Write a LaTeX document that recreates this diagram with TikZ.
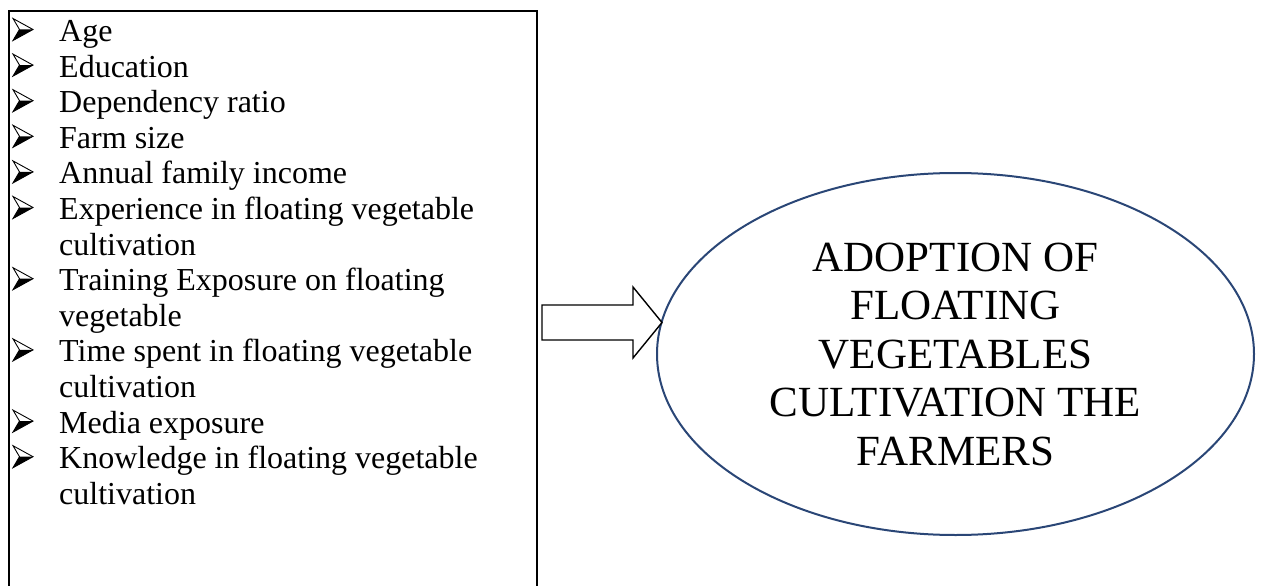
\documentclass[tikz,border=0pt]{standalone}
\usepackage{fontspec}
\setmainfont{Liberation Serif}
\usetikzlibrary{shapes.geometric}
\definecolor{ellblue}{HTML}{2A4676}
\tikzset{
  listbox/.style={draw=black, line width=2pt},
  item/.style={anchor=base west, inner sep=0pt, font=\fontsize{32}{35.6}\selectfont},
  outcome/.style={ellipse, draw=ellblue, line width=2pt, minimum width=597pt, minimum height=362pt, inner sep=0pt, align=center, font=\fontsize{43}{48.5}\selectfont},
  blockarrow/.style={draw=black, line width=1.4pt, fill=white},
  wbullet/.pic={
    \fill[black] (6.5,-12) -- (20,-12) -- (0,-1) -- cycle;
    \draw[black, line width=0.9pt, line join=miter] (0,-23) -- (20,-12) -- (0,-1) -- (6.5,-12) -- cycle;
  }
}
\begin{document}
\begin{tikzpicture}[x=1pt,y=-1pt]
\useasboundingbox (0,0) rectangle (1262,586);
\clip (0,0) rectangle (1262,586);
% list box (open at the bottom of the picture)
\coordinate (boxBL) at (9,600);
\coordinate (boxTL) at (9,11);
\coordinate (boxTR) at (537,11);
\coordinate (boxBR) at (537,600);
\draw[listbox] (boxBL) -- (boxTL) -- (boxTR) -- (boxBR);
% list items
\foreach \b/\t [count=\i] in {1/Age, 1/Education, 1/Dependency ratio, 1/Farm size, 1/Annual family income,
  1/Experience in floating vegetable, 0/cultivation, 1/Training Exposure on floating, 0/vegetable,
  1/Time spent in floating vegetable, 0/cultivation, 1/Media exposure, 1/Knowledge in floating vegetable, 0/cultivation} {
  \pgfmathsetmacro{\yy}{41.5+35.6*(\i-1)}
  \node[item] (item\i) at (59,\yy) {\t};
  \ifnum\b=1 \pic (bul\i) at (13,\yy) {wbullet}; \fi
}
% outcome ellipse
\node[outcome] (adopt) at (955.5,354) {ADOPTION OF\\FLOATING\\VEGETABLES\\CULTIVATION THE\\FARMERS};
% block arrow
\coordinate (tip) at (662,322.5);
\draw[blockarrow] (542,305) -- (633,305) -- (633,287) -- (tip) -- (633,358) -- (633,340) -- (542,340) -- cycle;
\end{tikzpicture}
\end{document}
